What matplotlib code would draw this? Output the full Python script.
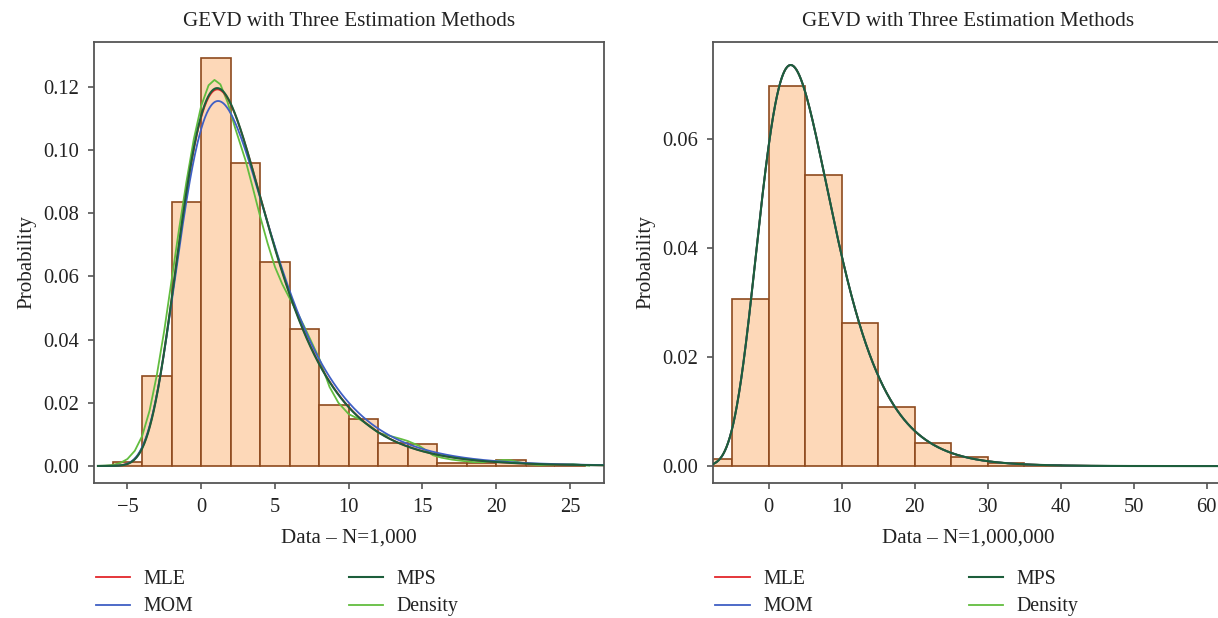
import numpy as np
import matplotlib
matplotlib.use("Agg")
import matplotlib.pyplot as plt
from matplotlib.ticker import FormatStrFormatter

plt.rcParams["font.family"] = ["Liberation Serif", "DejaVu Serif"]
plt.rcParams["font.size"] = 15
plt.rcParams["axes.unicode_minus"] = True

# ---- left panel: N = 1,000 ----
left_bin_edges = [-6, -4, -2, 0, 2, 4, 6, 8, 10, 12, 14, 16, 18, 20, 22, 24, 26]
left_heights = [0.0014, 0.0285, 0.0835, 0.129, 0.096, 0.0646, 0.0434, 0.0194,
                0.0150, 0.0074, 0.0069, 0.0009, 0.0008, 0.0019, 0.0, 0.0004]
# GEV (mu, sigma, xi) for each estimation method
left_mle = (1.25, 3.09, 0.05)
left_mom = (1.33, 3.19, 0.06)
left_mps = (1.24, 3.08, 0.052)
# kernel density curve
left_dens_x = [-7.0, -6.5, -6.0, -5.5, -5.0, -4.5, -4.0, -3.5, -3.0, -2.5, -2.0,
               -1.5, -1.0, -0.5, 0.0, 0.5, 0.9, 1.3, 1.8, 2.3, 3.0, 3.5, 4.0,
               4.5, 5.0, 5.5, 6.0, 6.5, 7.0, 7.5, 8.0, 8.7, 9.3, 10.0, 10.8,
               11.5, 12.0, 12.8, 13.5, 14.0, 14.8, 15.3, 15.7, 16.3, 17.0, 17.7,
               18.5, 19.2, 19.8, 20.5, 21.0, 21.6, 22.3, 23.0, 23.8, 24.5, 25.2,
               25.8, 26.3]
left_dens_y = [0.0000, 0.0001, 0.0003, 0.0009, 0.0022, 0.0048, 0.0095, 0.0175,
               0.0290, 0.0430, 0.0590, 0.0750, 0.0900, 0.1035, 0.1140, 0.1205,
               0.1222, 0.1208, 0.1150, 0.1070, 0.0968, 0.0880, 0.0789, 0.0705,
               0.0630, 0.0575, 0.0530, 0.0487, 0.0440, 0.0390, 0.0340, 0.0250,
               0.0200, 0.0164, 0.0146, 0.0125, 0.0105, 0.0095, 0.0086, 0.0079,
               0.0063, 0.0048, 0.0034, 0.0026, 0.0020, 0.0016, 0.0012, 0.0012,
               0.0015, 0.0019, 0.0018, 0.0011, 0.0005, 0.0003, 0.0003, 0.0005,
               0.0006, 0.0003, 0.0001]

# ---- right panel: N = 1,000,000 ----
right_bin_edges = [-10, -5, 0, 5, 10, 15, 20, 25, 30, 35, 40, 45]
right_heights = [0.0013, 0.0307, 0.0697, 0.0534, 0.0262, 0.0108, 0.0043,
                 0.0017, 0.0006, 0.00025, 0.0001]
right_mle = (3.0, 5.0, 0.0)
right_mom = (3.0, 5.0, 0.0)
right_mps = (3.0, 5.0, 0.0)
right_dens = (3.0, 5.0, 0.0)

C_MLE = "#e3262b"
C_MOM = "#3f5fc4"
C_MPS = "#1d5e3b"
C_DEN = "#62bd3f"
C_FILL = "#fdd8b8"
C_EDGE = "#8e4a1e"
C_AX = "#555555"
C_TXT = "#222222"


def gev_pdf(x, p):
    mu, sig, xi = p
    z = (x - mu) / sig
    if abs(xi) < 1e-9:
        t = np.exp(-z)
    else:
        s = np.clip(1 + xi * z, 1e-12, None)
        t = s ** (-1.0 / xi)
    return t ** (xi + 1) * np.exp(-t) / sig


def style(ax, xlim, ylim, xticks, yticks, xlabel):
    ax.set_xlim(*xlim)
    ax.set_ylim(*ylim)
    ax.set_xticks(xticks)
    ax.set_yticks(yticks)
    ax.yaxis.set_major_formatter(FormatStrFormatter("%.2f"))
    ax.set_xlabel(xlabel, color=C_TXT, fontsize=15.2, labelpad=8)
    ax.set_ylabel("Probability", color=C_TXT, fontsize=15.2, labelpad=5)
    ax.set_title("GEVD with Three Estimation Methods", color=C_TXT,
                 fontsize=15.2, pad=11.5)
    for sp in ax.spines.values():
        sp.set_color(C_AX)
        sp.set_linewidth(1.3)
    ax.tick_params(colors=C_AX, labelcolor=C_TXT, labelsize=14.8,
                   length=4.3, width=1.2)
    ax.tick_params(axis="x", pad=6.5)
    ax.tick_params(axis="y", pad=6.5)


def draw(ax, edges, heights, mle, mom, mps, dens_x, dens_y, xs):
    ax.bar(edges[:-1], heights, width=np.diff(edges), align="edge",
           color=C_FILL, edgecolor=C_EDGE, linewidth=1.2, zorder=1)
    ax.plot(dens_x, dens_y, color=C_DEN, lw=1.3, zorder=2, label="Density")
    ax.plot(xs, gev_pdf(xs, mle), color=C_MLE, lw=1.3, zorder=3, label="MLE")
    ax.plot(xs, gev_pdf(xs, mom), color=C_MOM, lw=1.3, zorder=3, label="MOM")
    ax.plot(xs, gev_pdf(xs, mps), color=C_MPS, lw=1.5, zorder=4, label="MPS")
    h, l = ax.get_legend_handles_labels()
    order = [l.index(k) for k in ("MLE", "MOM", "MPS", "Density")]
    ax.legend([h[i] for i in order], [l[i] for i in order], ncol=2,
              loc="upper left", bbox_to_anchor=(-0.031, -0.157), frameon=False,
              fontsize=14.3, handlelength=1.73, handletextpad=0.66,
              columnspacing=7.85, labelspacing=0.42, labelcolor=C_TXT)


fig = plt.figure(figsize=(12.18, 6.18), dpi=100)
ax1 = fig.add_axes([93.8 / 1218, 1 - 483 / 618, 510 / 1218, 441 / 618])
ax2 = fig.add_axes([713.4 / 1218, 1 - 483 / 618, 510 / 1218, 441 / 618])

xs1 = np.linspace(-7.0, 27.3, 800)
draw(ax1, left_bin_edges, left_heights, left_mle, left_mom, left_mps,
     left_dens_x, left_dens_y, xs1)
style(ax1, (-7.28, 27.29), (-0.0054, 0.1342), [-5, 0, 5, 10, 15, 20, 25],
      [0.0, 0.02, 0.04, 0.06, 0.08, 0.10, 0.12], "Data \u2013 N=1,000")

xs2 = np.linspace(-7.6, 64, 1200)
draw(ax2, right_bin_edges, right_heights, right_mle, right_mom, right_mps,
     xs2, gev_pdf(xs2, right_dens), xs2)
style(ax2, (-7.59, 62.3), (-0.0031, 0.0778), [0, 10, 20, 30, 40, 50, 60],
      [0.0, 0.02, 0.04, 0.06], "Data \u2013 N=1,000,000")
ax2.spines["right"].set_visible(False)

fig.savefig("out.png", dpi=100)
